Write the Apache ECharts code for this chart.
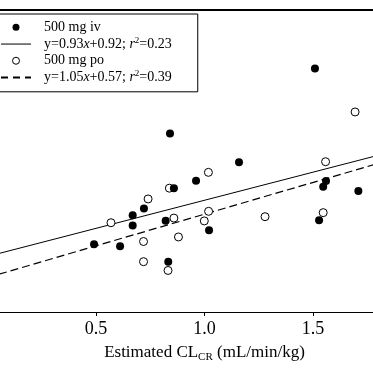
<!DOCTYPE html>
<html><head><meta charset="utf-8">
<script src="https://cdn.jsdelivr.net/npm/echarts@6/dist/echarts.min.js"></script>
<style>html,body{margin:0;padding:0;background:#fff}#c{width:373px;height:373px}</style>
</head><body><div id="c"></div>
<script>
// 500 mg iv (filled circles)
const ivX = [1.509, 0.841, 1.159, 0.961, 0.859, 1.560, 1.547, 1.709, 0.721, 0.669, 0.669, 0.821, 1.021, 1.528, 0.491, 0.611, 0.833];
const ivY = [4.03, 2.955, 2.478, 2.172, 2.05, 2.167, 2.072, 2.005, 1.712, 1.60, 1.433, 1.512, 1.355, 1.517, 1.122, 1.088, 0.833];
// 500 mg po (open circles)
const poX = [1.694, 1.558, 1.018, 0.838, 0.740, 0.569, 0.859, 1.019, 0.999, 1.279, 1.547, 0.719, 0.880, 0.719, 0.832];
const poY = [3.312, 2.488, 2.312, 2.05, 1.872, 1.478, 1.555, 1.667, 1.508, 1.578, 1.645, 1.167, 1.242, 0.833, 0.688];
// regression lines (endpoints)
const ivFitX = [0, 2.0];
const ivFitY = [0.92, 2.78];
const poFitX = [0, 2.0];
const poFitY = [0.57, 2.67];
const xTicks = [0.5, 1.0, 1.5];

const IV = '500 mg iv', IVFIT = 'y=0.93x+0.92; r2=0.23', PO = '500 mg po', POFIT = 'y=1.05x+0.57; r2=0.39';
const zip = (a, b) => a.map((v, i) => [v, b[i]]);
const FONT = 'Liberation Serif';
const hiddenSym = { color: 'rgba(0,0,0,0)', borderColor: 'rgba(0,0,0,0)', borderWidth: 0, opacity: 0 };

const chart = echarts.init(document.getElementById('c'));
chart.setOption({
  animation: false,
  backgroundColor: '#fff',
  grid: { left: -12.5, right: -48.5, top: 10, bottom: 61, containLabel: false, outerBoundsMode: 'none' },
  xAxis: [{
    type: 'value', min: 0, max: 2.0, interval: 0.5, position: 'bottom',
    axisLine: { lineStyle: { color: '#000', width: 1 } },
    axisTick: { show: true, inside: false, length: 4, lineStyle: { color: '#000' } },
    splitLine: { show: false },
    axisLabel: { color: '#000', fontFamily: FONT, fontSize: 18, margin: 8,
      formatter: v => xTicks.includes(v) ? v.toFixed(1) : '' },
    name: 'Estimated CL{sub|CR} (mL/min/kg)',
    nameLocation: 'middle', nameGap: 30,
    nameTextStyle: { color: '#000', fontFamily: FONT, fontSize: 17, lineHeight: 20,
      rich: { sub: { fontFamily: FONT, fontSize: 11, color: '#000', verticalAlign: 'bottom', lineHeight: 20, padding: [6, 0, 0, 0] } } }
  }, {
    type: 'value', min: 0, max: 2.0, position: 'top',
    axisLine: { lineStyle: { color: '#000', width: 2 } },
    axisTick: { show: false }, axisLabel: { show: false }, splitLine: { show: false }
  }],
  yAxis: { type: 'value', min: 0, max: 5, show: false },
  legend: {
    orient: 'vertical', left: -8, top: 14,
    padding: [5, 26, 6, 8],
    borderColor: '#000', borderWidth: 1,
    itemWidth: 30, itemHeight: 7, itemGap: 0,
    data: [
      { name: IV },
      { name: IVFIT, itemStyle: hiddenSym, lineStyle: { color: '#000', width: 1 } },
      { name: PO, itemStyle: { color: '#fff', borderColor: '#000', borderWidth: 1 } },
      { name: POFIT, itemStyle: hiddenSym, lineStyle: { color: '#000', width: 2, type: [7, 5] } }
    ],
    formatter: n => n === IVFIT ? 'y=0.93{i|x}+0.92; {i|r}{sup|2}=0.23'
                 : n === POFIT ? 'y=1.05{i|x}+0.57; {i|r}{sup|2}=0.39' : n,
    textStyle: { color: '#000', fontFamily: FONT, fontSize: 14, lineHeight: 16.7, padding: [0, 0, 0, 8],
      rich: {
        i: { fontFamily: FONT, fontSize: 14, fontStyle: 'italic', color: '#000', lineHeight: 16.7 },
        sup: { fontFamily: FONT, fontSize: 9, color: '#000', verticalAlign: 'top', lineHeight: 16.7 }
      } }
  },
  series: [
    { name: IVFIT, type: 'line', data: zip(ivFitX, ivFitY), showSymbol: false, symbol: 'none',
      lineStyle: { color: '#000', width: 1 }, itemStyle: { color: '#000' }, z: 1 },
    { name: POFIT, type: 'line', data: zip(poFitX, poFitY), showSymbol: false, symbol: 'none',
      lineStyle: { color: '#000', width: 1.2, type: [8, 4] }, itemStyle: { color: '#000' }, z: 1 },
    { name: IV, type: 'scatter', data: zip(ivX, ivY), symbol: 'circle', symbolSize: 8,
      itemStyle: { color: '#000', opacity: 1 }, z: 3 },
    { name: PO, type: 'scatter', data: zip(poX, poY), symbol: 'circle', symbolSize: 8,
      itemStyle: { color: '#fff', borderColor: '#000', borderWidth: 1, opacity: 1 }, z: 2 }
  ]
});
</script></body></html>
